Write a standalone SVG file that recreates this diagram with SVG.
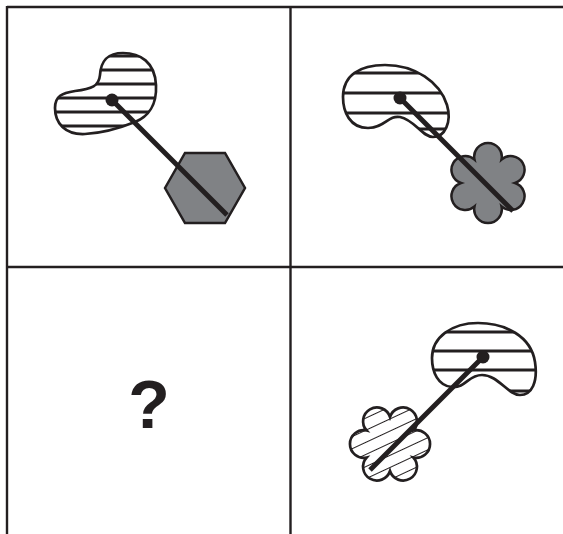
<svg xmlns="http://www.w3.org/2000/svg" width="563" height="534" viewBox="0 0 563 534">
  <style>
    .frame { stroke: #231f20; stroke-width: 2.4; fill: none; }
    .outline { stroke: #231f20; stroke-width: 2.7; fill: #ffffff; }
    .solid { stroke: #231f20; stroke-width: 2.5; fill: #808285; }
    .hatch { stroke: #231f20; stroke-width: 2.8; }
    .rod { stroke: #231f20; stroke-width: 5; stroke-linecap: butt; }
    .dot { fill: #231f20; }
    .q { font-family: "Liberation Sans", Arial, sans-serif; font-weight: bold; font-size: 68px; fill: #231f20; }
  </style>
  <defs>
    <clipPath id="c1"><path d="M123,53 C140,53 155,62 156,85 C157,105 148,117 135,122 C120,128 105,133 85,134 C65,135 55,123 55,108 C55,96 62,93 75,91 C92,89 99,86 100,75 C101,60 108,53 123,53 Z"/></clipPath>
    <clipPath id="c2"><path d="M385,65 C415,65 440,82 447,105 C452,122 445,137 433,137 C422,137 415,120 400,117 C388,115 385,128 368,128 C350,128 343,112 343,97 C343,75 360,65 385,65 Z"/></clipPath>
    <clipPath id="c4"><path d="M478,323 C505,323 531,336 535,362 C538,382 532,395 520,395 C508,395 498,375 482,375 C468,375 466,388 452,387 C438,386 432,372 432,358 C432,337 452,323 478,323 Z"/></clipPath>
    <clipPath id="cf4"><path d="M390,417 A13.8,13.8 0 1 1 413.38,430.5 A13.8,13.8 0 1 1 413.38,457.5 A13.8,13.8 0 1 1 390,471 A13.8,13.8 0 1 1 366.62,457.5 A13.8,13.8 0 1 1 366.62,430.5 A13.8,13.8 0 1 1 390,417 Z"/></clipPath>
    <pattern id="diag" patternUnits="userSpaceOnUse" width="40" height="11" patternTransform="rotate(-25)">
      <line x1="0" y1="5.5" x2="40" y2="5.5" stroke="#231f20" stroke-width="1.1"/>
    </pattern>
  </defs>

  <g id="grid">
    <line class="frame" x1="7" y1="7" x2="563" y2="7"/>
    <line class="frame" x1="7" y1="267" x2="563" y2="267"/>
    <line class="frame" x1="7" y1="6" x2="7" y2="534"/>
    <line class="frame" x1="290.5" y1="6" x2="290.5" y2="534"/>
  </g>

  <g id="blob1">
    <path class="outline" d="M123,53 C140,53 155,62 156,85 C157,105 148,117 135,122 C120,128 105,133 85,134 C65,135 55,123 55,108 C55,96 62,93 75,91 C92,89 99,86 100,75 C101,60 108,53 123,53 Z"/>
    <g clip-path="url(#c1)" class="hatch">
      <line x1="50" y1="56" x2="160" y2="56"/>
      <line x1="50" y1="70" x2="160" y2="70"/>
      <line x1="50" y1="84" x2="160" y2="84"/>
      <line x1="50" y1="98" x2="160" y2="98"/>
      <line x1="50" y1="112" x2="160" y2="112"/>
      <line x1="50" y1="126" x2="160" y2="126"/>
    </g>
  </g>
  <g id="hexagon1">
    <polygon class="solid" points="165,188 185,153 225,153 245,188 225,223 185,223"/>
  </g>

  <g id="blob2">
    <path class="outline" d="M385,65 C415,65 440,82 447,105 C452,122 445,137 433,137 C422,137 415,120 400,117 C388,115 385,128 368,128 C350,128 343,112 343,97 C343,75 360,65 385,65 Z"/>
    <g clip-path="url(#c2)" class="hatch">
      <line x1="335" y1="73" x2="455" y2="73"/>
      <line x1="335" y1="93" x2="455" y2="93"/>
      <line x1="335" y1="113" x2="455" y2="113"/>
      <line x1="335" y1="129" x2="455" y2="129"/>
    </g>
  </g>
  <g id="flower2">
    <path class="solid" d="M474.5,159.62 A13.8,13.8 0 1 1 501.5,159.62 A13.8,13.8 0 1 1 515,183 A13.8,13.8 0 1 1 501.5,206.38 A13.8,13.8 0 1 1 474.5,206.38 A13.8,13.8 0 1 1 461,183 A13.8,13.8 0 1 1 474.5,159.62 Z"/>
  </g>

  <g id="question">
    <text class="q" x="149" y="428" text-anchor="middle">?</text>
  </g>

  <g id="blob4">
    <path class="outline" d="M478,323 C505,323 531,336 535,362 C538,382 532,395 520,395 C508,395 498,375 482,375 C468,375 466,388 452,387 C438,386 432,372 432,358 C432,337 452,323 478,323 Z"/>
    <g clip-path="url(#c4)" class="hatch">
      <line x1="425" y1="332" x2="545" y2="332"/>
      <line x1="425" y1="351" x2="545" y2="351"/>
      <line x1="425" y1="370" x2="545" y2="370"/>
      <line x1="425" y1="391" x2="545" y2="391"/>
    </g>
  </g>
  <g id="flower4">
    <path class="outline" d="M390,417 A13.8,13.8 0 1 1 413.38,430.5 A13.8,13.8 0 1 1 413.38,457.5 A13.8,13.8 0 1 1 390,471 A13.8,13.8 0 1 1 366.62,457.5 A13.8,13.8 0 1 1 366.62,430.5 A13.8,13.8 0 1 1 390,417 Z"/>
    <rect x="340" y="400" width="100" height="90" fill="url(#diag)" clip-path="url(#cf4)"/>
  </g>

  <g id="connectors">
    <line class="rod" x1="112" y1="100" x2="227" y2="215"/>
    <line class="rod" x1="400" y1="98" x2="513" y2="211"/>
    <line class="rod" x1="483" y1="357" x2="370" y2="470"/>
    <circle class="dot" cx="112" cy="100" r="6.5"/>
    <circle class="dot" cx="400" cy="98" r="6.5"/>
    <circle class="dot" cx="483" cy="357" r="6.5"/>
  </g>
</svg>
